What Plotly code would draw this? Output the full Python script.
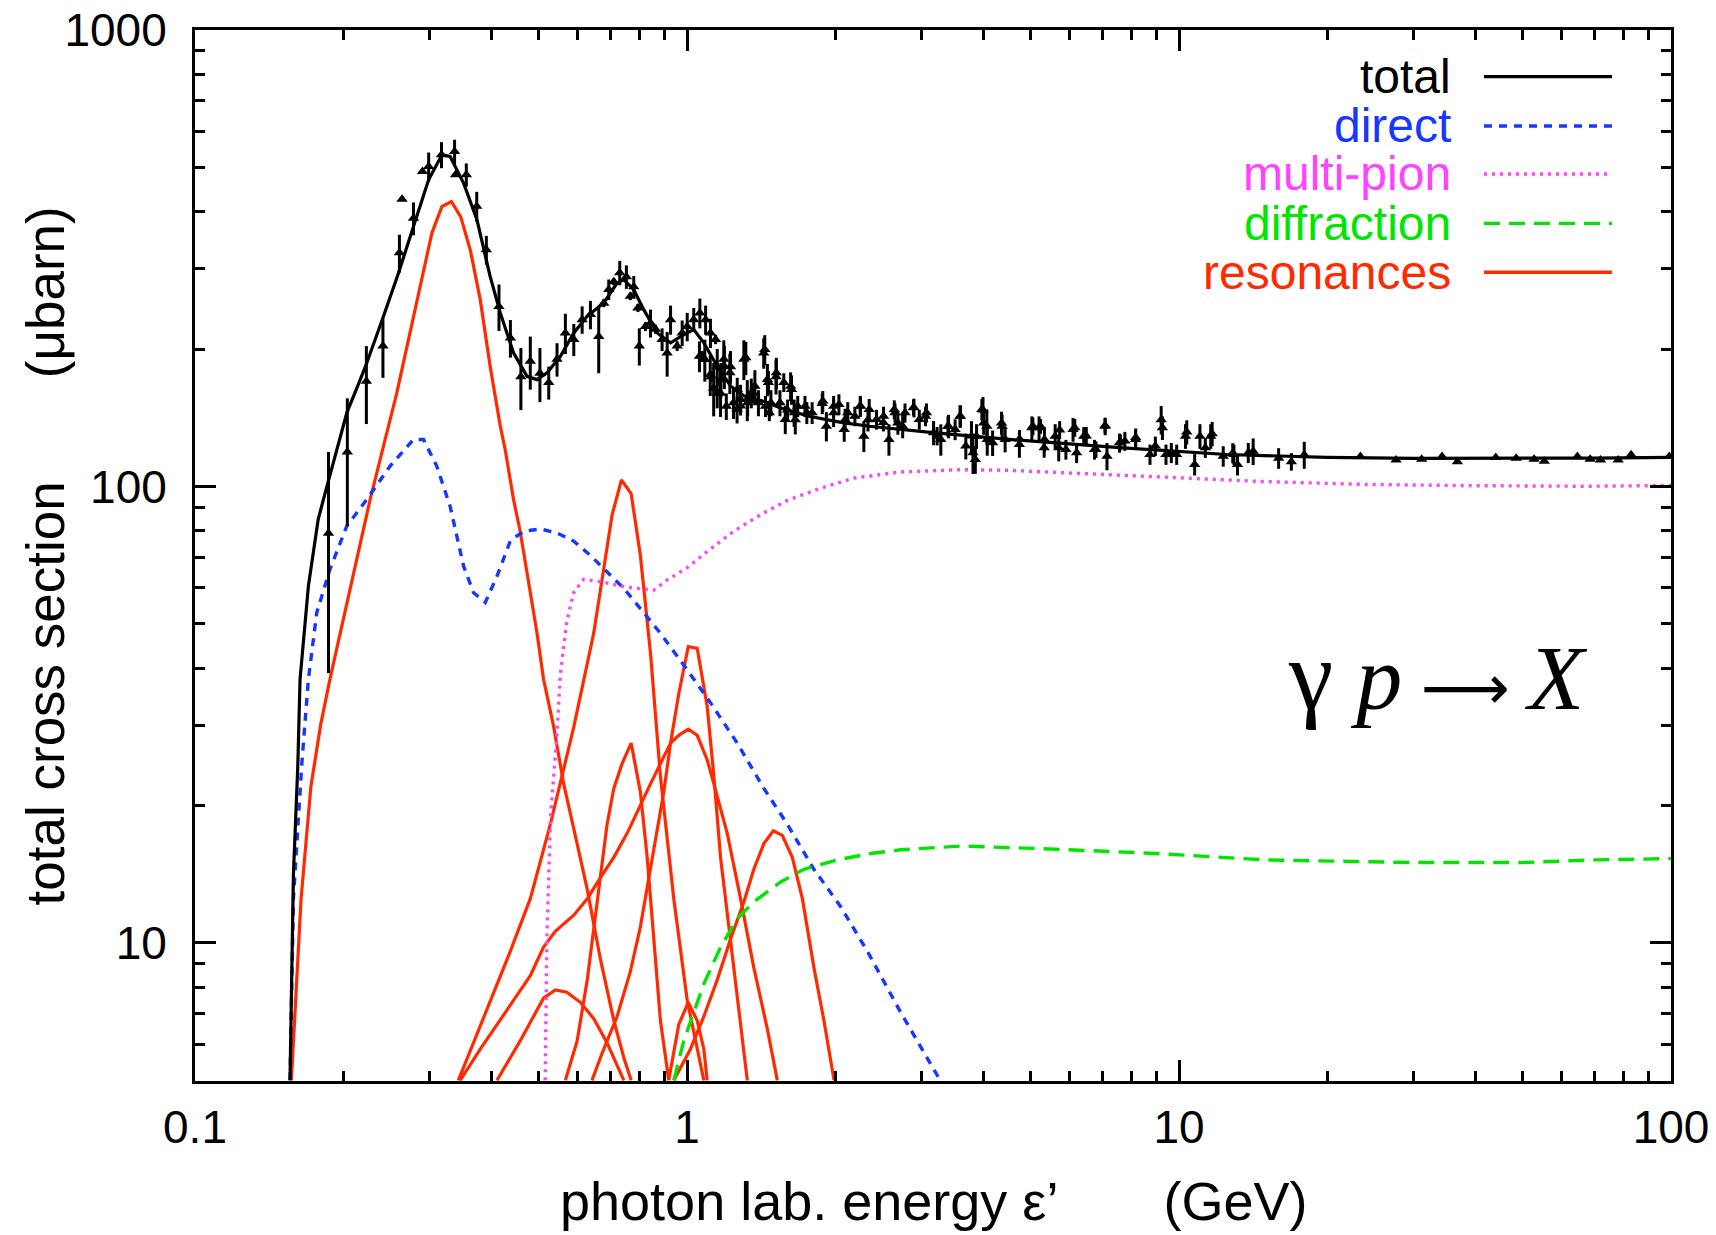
import plotly.graph_objects as go

# ---------------- data ----------------
E_total = [0.156, 0.157, 0.1585, 0.1618, 0.1635, 0.170, 0.178, 0.1824, 0.1942, 0.2035, 0.2167, 0.2235,
           0.2416, 0.2592, 0.278, 0.2984, 0.3177, 0.330, 0.3515, 0.3742, 0.398, 0.4174, 0.444, 0.473,
           0.4957, 0.5194, 0.553, 0.5887, 0.6265, 0.6773, 0.721, 0.744, 0.7795, 0.8167, 0.870, 0.926,
           0.985, 1.032, 1.082, 1.152, 1.226, 1.305, 1.45, 1.55, 1.77, 2.07, 2.35, 3.2, 4.58, 7.57,
           12.5, 20.0, 30.0, 50.0, 70.0, 100.0]
S_total = [5.0, 8.1, 14.1, 24.5, 37.8, 60.5, 84.7, 93.7, 120.5, 145, 171.4, 186.6,
           235.9, 293.6, 371.2, 469.7, 532.7, 528.2, 461.9, 383.9, 288.5, 240, 196.2, 174.3,
           171.4, 177.4, 192.8, 216.9, 235.9, 252.4, 279.1, 283.8, 269.8, 244, 216.9, 206.3,
           215.1, 220.6, 206.3, 183.4, 166, 158, 153, 148.5, 142.5, 138, 135.5, 131, 126.7, 121.6,
           117.5, 115.8, 115.2, 115.2, 115.4, 115.8]

E_direct = [0.156, 0.1585, 0.165, 0.170, 0.1768, 0.188, 0.2035, 0.2235, 0.2492, 0.278, 0.2914, 0.310,
            0.330, 0.3515, 0.3683, 0.389, 0.411, 0.4375, 0.4656, 0.5034, 0.5443, 0.5887, 0.6364,
            0.688, 0.744, 0.804, 0.883, 1.0, 1.116, 1.265, 1.433, 1.599, 1.811, 2.053, 2.326,
            2.719, 3.224, 3.27]
S_direct = [5.0, 12.5, 25.0, 37.8, 52.9, 65.8, 81.9, 93.7, 110.8, 126.7, 126.7, 110.8,
            90.5, 66.9, 58.5, 55.7, 63.6, 76.0, 79.8, 80.7, 79.1, 75.9, 70.6,
            65.0, 59.8, 54.0, 47.7, 39.7, 33.6, 27.4, 21.8, 18.2, 14.5, 12.0, 9.59,
            7.04, 5.17, 5.0]

E_multipion = [0.515, 0.519, 0.528, 0.536, 0.544, 0.553, 0.570, 0.5886, 0.6166, 0.677, 0.732, 0.7795,
               0.856, 0.911, 1.001, 1.099, 1.245, 1.411, 1.599, 1.869, 2.185, 2.719, 3.6, 4.5,
               6.0, 9.0, 14.5, 24.0, 40.0, 67.0, 100.0]
S_multipion = [5.0, 10.2, 18.9, 23.2, 28.5, 38.9, 50.8, 58.6, 62.6, 61.7, 60.5, 59.9,
               59.3, 62.4, 66.4, 72.0, 79.8, 86.7, 93.2, 99.1, 104.3, 107.6, 108.8, 108.5,
               107.2, 105.0, 102.6, 101.0, 100.4, 100.1, 100.5]

E_diffraction = [0.940, 0.985, 1.032, 1.082, 1.170, 1.265, 1.367, 1.55, 1.728, 2.021, 2.362, 2.719,
                 3.6, 5.2, 9.0, 15.0, 30.0, 50.0, 70.0, 100.0]
S_diffraction = [5.0, 6.10, 7.04, 8.13, 9.79, 11.3, 12.3, 13.6, 14.5, 15.2, 15.7, 16.0,
                 16.3, 16.1, 15.7, 15.2, 15.0, 15.0, 15.2, 15.3]

# resonances (one curve each)
E_res_1 = [0.157, 0.1643, 0.172, 0.180, 0.188, 0.227, 0.257, 0.2914, 0.303, 0.3177, 0.332, 0.347,
           0.3626, 0.380, 0.398, 0.4174, 0.427, 0.444, 0.458, 0.4957, 0.511, 0.536, 0.5615,
           0.5886, 0.627, 0.667, 0.710, 0.744, 0.770]
S_res_1 = [5.0, 12.5, 22.0, 30.0, 37.8, 93.7, 160, 293.6, 359, 410.6, 421, 389,
           330, 256.6, 183.4, 135.5, 120.5, 93.7, 79.8, 47.7, 37.8, 29.7, 22.3,
           17.8, 13.1, 9.2, 6.76, 5.61, 5.0]
E_res_2 = [0.343, 0.392, 0.4375, 0.4803, 0.5277, 0.5886, 0.6463, 0.7044, 0.7358, 0.770, 0.804,
           0.843, 0.883, 0.940, 1.001, 1.082]
S_res_2 = [5.0, 7.19, 9.59, 12.5, 18.2, 29.7, 47.7, 86.7, 103.3, 96.5, 70.6,
           43.1, 23.2, 12.5, 7.49, 5.0]
E_res_3 = [0.566, 0.598, 0.627, 0.657, 0.688, 0.710, 0.738, 0.770, 0.804, 0.830, 0.856, 0.883, 0.918]
S_res_3 = [5.0, 6.10, 8.30, 12.5, 18.2, 21.8, 24.7, 27.4, 21.4, 15.4, 10.2, 6.76, 5.0]
E_res_4 = [0.641, 0.672, 0.721, 0.767, 0.804, 0.856, 0.897, 0.926, 0.962, 1.006, 1.049, 1.099,
           1.134, 1.170, 1.226, 1.285, 1.326]
S_res_4 = [5.0, 5.73, 6.90, 8.65, 10.85, 16.0, 21.4, 27.4, 35.1, 44.6, 44.2, 33.0,
           23.2, 15.4, 10.2, 6.76, 5.0]
E_res_5 = [0.346, 0.380, 0.411, 0.444, 0.4803, 0.511, 0.540, 0.5886, 0.627, 0.667, 0.710, 0.756,
           0.804, 0.843, 0.883, 0.926, 0.962, 1.006, 1.049, 1.099, 1.134, 1.207, 1.285, 1.367,
           1.456, 1.526]
S_res_5 = [5.0, 5.85, 6.62, 7.49, 8.48, 9.79, 10.6, 11.5, 12.5, 13.9, 15.4, 17.4,
           20.1, 22.3, 24.7, 27.4, 28.5, 29.4, 28.5, 25.2, 22.3, 17.4, 12.5, 8.83,
           6.49, 5.0]
E_res_6 = [0.411, 0.458, 0.511, 0.540, 0.570, 0.607, 0.646, 0.688, 0.744]
S_res_6 = [5.0, 6.10, 7.57, 7.89, 7.80, 7.41, 6.83, 6.04, 5.0]
E_res_7 = [0.918, 0.962, 1.006, 1.049, 1.082, 1.099]
S_res_7 = [5.0, 6.62, 7.41, 6.76, 5.85, 5.0]
E_res_8 = [0.940, 1.016, 1.082, 1.152, 1.226, 1.305, 1.367, 1.433, 1.498, 1.562, 1.637, 1.716,
           1.811, 1.898, 1.99]
S_res_8 = [5.0, 5.85, 6.90, 8.30, 10.2, 12.3, 14.5, 16.5, 17.6, 17.2, 15.4, 12.5,
           8.83, 6.76, 5.0]

# measured points, low-energy part
E_data_low = [0.1868, 0.204, 0.223, 0.241, 0.2603, 0.2635, 0.278, 0.29, 0.2985, 0.317, 0.337, 0.3385,
              0.356, 0.3738, 0.391, 0.4148, 0.4376, 0.4596, 0.4803, 0.5024, 0.5236, 0.5443, 0.566,
              0.5887, 0.6122, 0.6364, 0.6616, 0.6773, 0.6934, 0.7099, 0.730, 0.753, 0.767, 0.7795,
              0.795, 0.800, 0.8233, 0.843, 0.863, 0.890, 0.9113, 0.926, 0.955, 0.9777, 1.001, 1.032,
              1.062, 1.074, 1.091, 1.116, 1.12, 1.143, 1.152, 1.17, 1.188, 1.226, 1.265, 1.285,
              1.305, 1.326]
S_data_low = [79, 119, 170, 203, 325, 426, 387, 490, 502, 533, 542, 482,
              482, 411, 330, 248, 211.5, 174, 188, 177, 169, 190, 217,
              210, 232, 238, 213, 252, 270, 281, 294, 288, 261, 274,
              246, 203, 224, 228, 221, 210, 196, 232, 203, 217, 224, 232,
              240, 193, 232, 217, 174, 210, 183, 160, 190, 183, 163, 150,
              190, 155]
dS_data_low = [40, 37, 33, 30, 31, 3, 32, 5, 37, 35, 33, 5,
               28, 31, 24, 29, 20, 27, 25, 24, 14, 16, 22,
               17, 16, 17, 36, 5, 14, 5, 18, 17, 5, 15,
               5, 19, 5, 16, 5, 12, 22, 17, 5, 14, 16, 14,
               18, 5, 17, 16, 5, 5, 17, 18, 19, 15, 10, 5,
               19, 16]

# measured points, 1.06 - 14 GeV (dense region)
E_data_mid = [1.060, 1.087, 1.115, 1.133, 1.152, 1.172, 1.191, 1.202, 1.222, 1.243, 1.264, 1.285,
              1.317, 1.328, 1.351, 1.363, 1.374, 1.397, 1.432, 1.439, 1.444, 1.457, 1.464, 1.47,
              1.481, 1.517, 1.519, 1.545, 1.573, 1.584, 1.601, 1.624, 1.631, 1.651, 1.66, 1.679,
              1.737, 1.752, 1.796, 1.883, 1.888, 1.920, 1.986, 1.986, 2.036, 2.087, 2.096, 2.122,
              2.194, 2.25, 2.251, 2.288, 2.333, 2.346, 2.427, 2.507, 2.509, 2.573, 2.638, 2.647,
              2.683, 2.744, 2.774, 2.886, 2.893, 2.966, 3.053, 3.067, 3.171, 3.224, 3.28, 3.391,
              3.401, 3.507, 3.588, 3.596, 3.687, 3.786, 3.813, 3.855, 3.877, 3.975, 3.996, 4.009,
              4.068, 4.076, 4.18, 4.358, 4.37, 4.432, 4.738, 4.741, 5.023, 5.047, 5.195, 5.23,
              5.32, 5.327, 5.601, 5.696, 5.72, 5.89, 6.09, 6.14, 6.193, 6.403, 6.48, 6.733, 6.78,
              7.074, 7.079, 7.139, 7.569, 7.6, 7.762, 8.161, 8.166, 8.73, 8.952, 9.2, 9.254,
              9.409, 9.647, 9.892, 10.31, 10.37, 10.76, 11.03, 11.31, 11.6, 11.68, 12.3, 12.86,
              12.93, 13.15, 13.83]
S_data_mid = [192.9, 189.7, 175.9, 164.4, 160.3, 171.5, 183.4, 149.9, 177.4, 152.5, 147.4, 155.0,
              191.3, 152.5, 160.3, 160, 165.8, 152.5, 196.1, 199.5, 149.9, 171.5, 169, 145,
              152.5, 174, 177.4, 152.5, 169, 140.2, 147, 165.8, 163, 145.0, 140, 149.9,
              149.9, 145, 145.0, 152, 153.8, 135.5, 149.9, 145, 151.2, 133.3, 140, 145.0,
              142.5, 149.9, 150, 128.9, 140, 147.4, 140.2, 138, 142.5, 126.8, 147.4, 145,
              137.8, 135.5, 145.0, 149, 148.7, 140.2, 142.5, 145.0, 131.1, 129, 126.8, 135.5,
              135.5, 133.3, 142.5, 142.5, 122.6, 129, 118.5, 114.6, 128.9, 147.4, 147, 137.8,
              135.5, 126.8, 124.6, 137.8, 135.5, 126.8, 123.6, 127, 134.4, 135.5, 134.4, 135.5,
              121.6, 126.8, 128.9, 121.5, 133, 120.5, 133.3, 134.5, 118.5, 128.9, 129, 120.5, 120.5,
              136, 135.5, 116.5, 124.6, 125, 125.7, 126.8, 128, 117.5, 122.6, 140, 134.4,
              117.5, 118.5, 117.5, 128.9, 131.6, 111.7, 128.9, 121.5, 128.9, 130.5, 116.5, 118.4,
              117.5, 111.7, 118.5]
dS_data_mid = [15, 20, 18, 22, 12, 15, 20, 10, 18, 12, 10, 12,
               16, 10, 12, 8, 14, 10, 15, 15, 8, 14, 10, 6,
               10, 15, 14, 10, 8, 10, 8, 12, 12, 10, 10, 8,
               8, 8, 8, 8, 8, 10, 8, 10, 8, 8, 8, 8,
               7, 8, 7, 10, 8, 8, 7, 6, 7, 10, 7, 7,
               8, 8, 7, 6, 7, 7, 7, 7, 8, 6, 10, 7,
               8, 7, 8, 8, 8, 10, 12, 8, 8, 8, 10, 8,
               12, 10, 8, 8, 8, 8, 8, 6, 8, 6, 8, 5,
               6, 8, 8, 8, 6, 6, 8, 6, 6, 6, 6, 6, 5,
               5, 6, 8, 6, 5, 6, 6, 6, 6, 6, 10, 8,
               6, 6, 6, 8, 8, 6, 8, 6, 8, 8, 6, 6,
               6, 6, 6]

# measured points, high-energy part
E_data_high = [14.15, 15.94, 16.92, 17.97, 23.37, 27.62, 31.13, 34.25, 36.8, 44.04, 48.45, 52.69,
               55.26, 64.53, 68.5, 71.9, 78.1, 82.96, 99.2]
S_data_high = [119.4, 115.3, 113.3, 117.3, 116.3, 114.3, 114.7, 116.3, 113.3, 115.7, 115.3, 114.7,
               113.6, 116.3, 114.7, 114.3, 114.3, 117.3, 116.3]
dS_data_high = [8, 6, 5, 8, 1, 1, 1, 1, 1, 1, 1, 1,
                1, 1, 1, 1, 1, 1, 1]

x_tickvals = [0.1, 1, 10, 100]
x_ticktext = ["0.1", "1", "10", "100"]
y_tickvals = [10, 100, 1000]
y_ticktext = ["10", "100", "1000"]

legend_names = ["total", "direct", "multi-pion", "diffraction", "resonances"]

# ---------------- styling ----------------
BLACK = "#000000"
BLUE = "#1637ff"
MAGENTA = "#ff44ff"
GREEN = "#00e600"
RED = "#ff2a00"
SANS = "Liberation Sans, Arial, Helvetica, sans-serif"
SERIF = "Liberation Serif, Times New Roman, serif"

fig = go.Figure()

res_sets = [(E_res_1, S_res_1), (E_res_2, S_res_2), (E_res_3, S_res_3), (E_res_4, S_res_4),
            (E_res_5, S_res_5), (E_res_6, S_res_6), (E_res_7, S_res_7), (E_res_8, S_res_8)]
for ex, sy in res_sets:
    fig.add_trace(go.Scatter(x=ex, y=sy, mode="lines", line=dict(color=RED, width=3.2),
                             showlegend=False))

fig.add_trace(go.Scatter(x=E_direct, y=S_direct, mode="lines",
                         line=dict(color=BLUE, width=3.4, dash="8px,7px"), showlegend=False))
fig.add_trace(go.Scatter(x=E_multipion, y=S_multipion, mode="lines",
                         line=dict(color=MAGENTA, width=3.4, dash="3px,5px"), showlegend=False))
fig.add_trace(go.Scatter(x=E_diffraction, y=S_diffraction, mode="lines",
                         line=dict(color=GREEN, width=3.4, dash="16px,9px"), showlegend=False))
fig.add_trace(go.Scatter(x=E_total, y=S_total, mode="lines",
                         line=dict(color=BLACK, width=3.2), showlegend=False))

E_data = E_data_low + E_data_mid + E_data_high
S_data = S_data_low + S_data_mid + S_data_high
dS_data = dS_data_low + dS_data_mid + dS_data_high
fig.add_trace(go.Scatter(x=E_data, y=S_data, mode="markers",
                         marker=dict(symbol="triangle-up", size=10, color=BLACK),
                         error_y=dict(type="data", array=dS_data, visible=True,
                                      color=BLACK, thickness=3, width=0),
                         showlegend=False))

axis_common = dict(type="log", showline=True, linewidth=3, linecolor=BLACK, mirror="allticks",
                   ticks="inside", ticklen=21, tickwidth=3, tickcolor=BLACK,
                   showgrid=False, zeroline=False, automargin=False, ticklabeloverflow="allow",
                   tickfont=dict(family=SANS, size=46, color=BLACK),
                   minor=dict(ticks="inside", ticklen=10, tickwidth=3, tickcolor=BLACK,
                              dtick="D1", showgrid=False))

fig.update_xaxes(range=[-1, 2], tickmode="array", tickvals=x_tickvals, ticktext=x_ticktext,
                 ticklabelstandoff=4, **axis_common)
fig.update_yaxes(range=[0.6975, 3], tickmode="array", tickvals=y_tickvals, ticktext=y_ticktext,
                 ticklabelstandoff=16, **axis_common)

# legend drawn manually: label on the left, line sample on the right
leg_colors = [BLACK, BLUE, MAGENTA, GREEN, RED]
leg_dash = ["solid", "8px,7px", "3px,5px", "16px,9px", "solid"]
leg_y = [0.9556, 0.9087, 0.863, 0.816, 0.7695]
for name, col, dsh, yy in zip(legend_names, leg_colors, leg_dash, leg_y):
    fig.add_shape(type="line", xref="paper", yref="paper", x0=0.8733, x1=0.96, y0=yy, y1=yy,
                  line=dict(color=col, width=3.4, dash=dsh))
    fig.add_annotation(text=name, xref="paper", yref="paper", x=0.852, y=yy,
                       xanchor="right", yanchor="middle", showarrow=False,
                       font=dict(family=SANS, size=48, color=col))

reaction = ("<span style='font-size:100px'>γ</span> <i>p</i>\u2009"
            "<span style='font-family:DejaVu Sans;font-size:62px'>⟶</span>\u2009<i>X</i>")
fig.add_annotation(text=reaction, xref="paper", yref="paper", x=0.842, y=0.386,
                   xanchor="center", yanchor="middle", showarrow=False,
                   font=dict(family=SERIF, size=92, color=BLACK))

gap = "\u00a0" * 7
fig.add_annotation(text="photon lab. energy ε’" + gap + "(GeV)", xref="paper", yref="paper",
                   x=0.5, y=-0.1446, xanchor="center", yanchor="bottom", showarrow=False,
                   font=dict(family=SANS, size=54, color=BLACK))
fig.add_annotation(text="total cross section" + gap + "(μbarn)", xref="paper", yref="paper",
                   x=-0.101, y=0.5, xanchor="center", yanchor="middle", showarrow=False,
                   textangle=-90, font=dict(family=SANS, size=53, color=BLACK))

fig.update_layout(width=1716, height=1235, margin=dict(l=195, r=45, t=30, b=154),
                  paper_bgcolor="white", plot_bgcolor="white", showlegend=False)

# remove the page's default 8 px body margin so the figure fills the window exactly
fig.write_html("out.html", config={"displayModeBar": False, "displaylogo": False},
               post_script="document.body.style.margin='0px';document.body.style.overflow='hidden';")
